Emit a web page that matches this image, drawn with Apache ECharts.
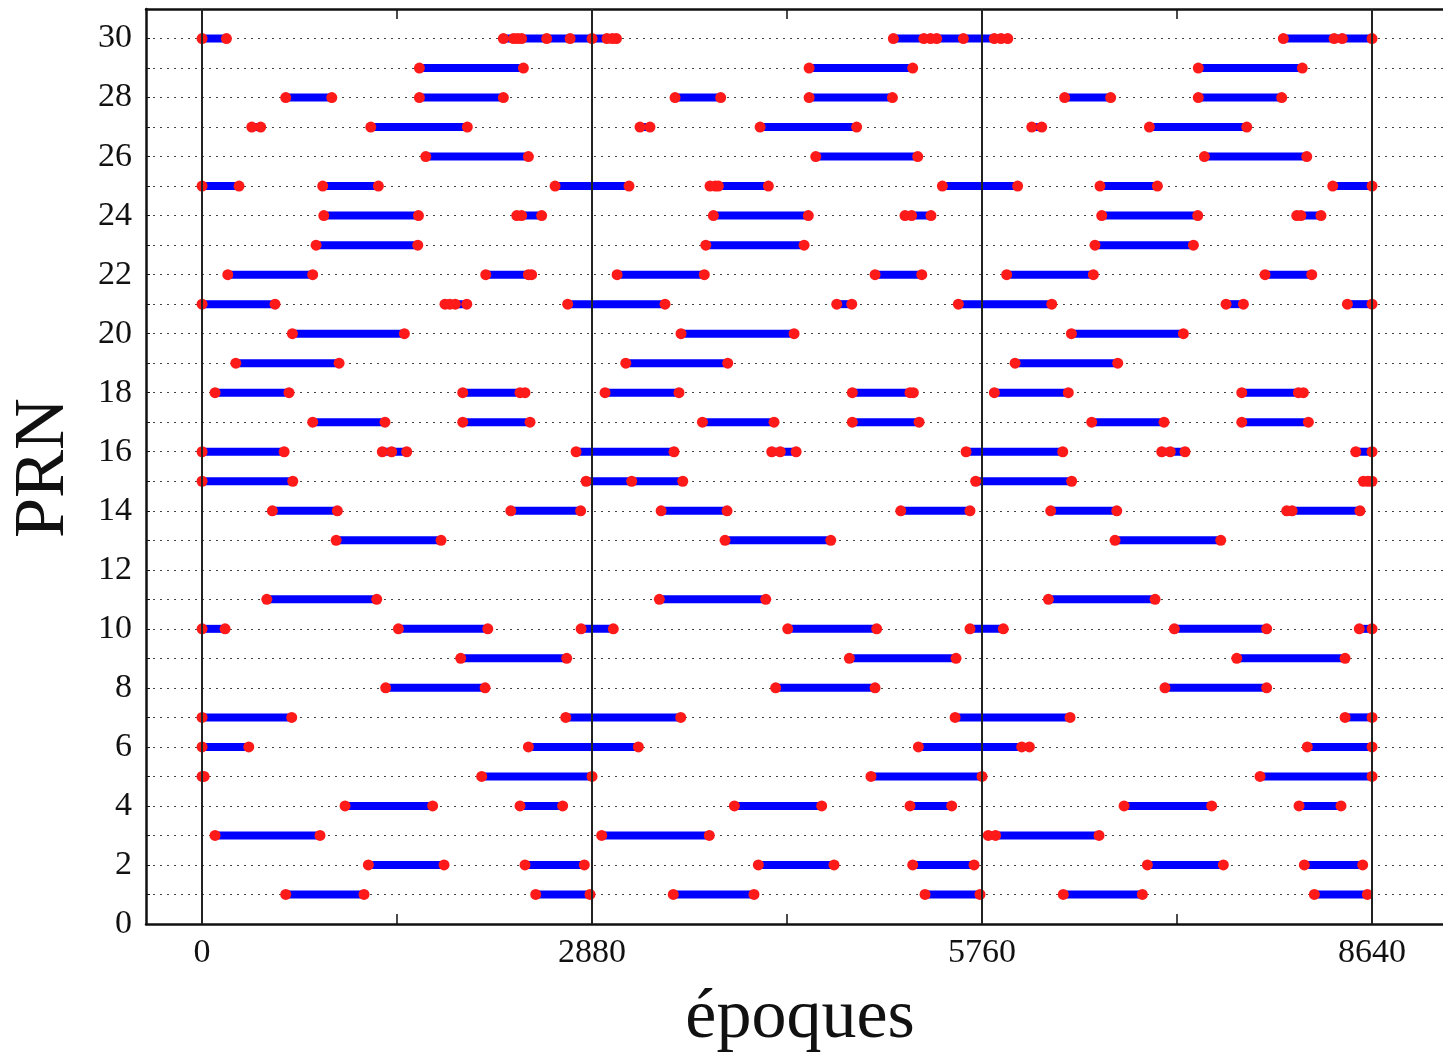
<!DOCTYPE html>
<html>
<head>
<meta charset="utf-8">
<script src="https://cdn.jsdelivr.net/npm/echarts@6/dist/echarts.min.js"></script>
<style>
html,body{margin:0;padding:0;background:#fff;}
#chart{width:1443px;height:1060px;}
</style>
</head>
<body>
<div id="chart"></div>
<script>
// Visibility arcs per satellite (PRN): each arc lists the epochs of its marked points
const prn01 = [[618,1196],[2464,2865],[3480,4076],[5339,5745],[6360,6944],[8214,8606]];
const prn02 = [[1228,1787],[2385,2823],[4108,4667],[5248,5701],[6981,7542],[8140,8571]];
const prn03 = [[96,871],[2951,3746],[5806,5860,6624]];
const prn04 = [[1056,1703],[2348,2663],[3931,4576],[5228,5536],[6809,7456],[8101,8411]];
const prn05 = [[0,15],[2065,2880],[4940,5760],[7813,8640]];
const prn06 = [[0,345],[2410,3222],[5290,6053,6110],[8162,8640]];
const prn07 = [[0,662],[2686,3535],[5561,6410],[8441,8640]];
const prn08 = [[1356,2090],[4236,4970],[7111,7862]];
const prn09 = [[1910,2693],[4780,5568],[7641,8441]];
const prn10 = [[0,170],[1450,2110],[2799,3037],[4325,4982],[5671,5917],[7180,7862],[8546,8640]];
const prn11 = [[478,1290],[3377,4163],[6250,7038]];
const prn12 = [];
const prn13 = [[990,1765],[3862,4643],[6742,7523]];
const prn14 = [[519,999],[2280,2796],[3390,3877],[5160,5671],[6267,6755],[8010,8050,8551]];
const prn15 = [[0,670],[2836,3173,3550],[5713,6422],[8576,8610,8640]];
const prn16 = [[0,606],[1331,1400,1511],[2762,3485],[4207,4270,4387],[5642,6356],[7087,7150,7259],[8520,8640]];
const prn17 = [[817,1351],[1925,2422],[3695,4224],[4802,5295],[6570,7104],[7678,8170]];
const prn18 = [[96,642],[1925,2348,2385],[2976,3522],[4802,5228,5253],[5851,6397],[7678,8096,8133]];
const prn19 = [[249,1012],[3129,3882],[6004,6762]];
const prn20 = [[667,1494],[3537,4372],[6420,7247]];
const prn21 = [[0,539],[1794,1830,1870,1955],[2700,3419],[4687,4798],[5585,6275],[7562,7690],[8458,8640]];
const prn22 = [[190,817],[2095,2410,2434],[3065,3709],[4970,5315],[5942,6582],[7850,8195]];
const prn23 = [[842,1593],[3720,4446],[6594,7321]];
const prn24 = [[899,1598],[2324,2360,2508],[3776,4477],[5191,5240,5383],[6644,7353],[8084,8115,8263]];
const prn25 = [[0,273],[891,1302],[2607,3153],[3751,3790,3813,4182],[5467,6023],[6631,7055],[8350,8640]];
const prn26 = [[1652,2410],[4532,5285],[7402,8158]];
const prn27 = [[367,433],[1246,1959],[3234,3308],[4121,4834],[6127,6201],[6996,7715]];
const prn28 = [[618,958],[1605,2225],[3493,3830],[4483,5098],[6370,6710],[7357,7973]];
const prn29 = [[1605,2373],[4483,5248],[7357,8125]];
const prn30 = [[0,180],[2225,2300,2330,2360,2545,2718,2880,2990,3030,3060],[5105,5330,5380,5425,5622,5850,5900,5950],[7985,8360,8420,8640]];

const satellites = [prn01,prn02,prn03,prn04,prn05,prn06,prn07,prn08,prn09,prn10,
                    prn11,prn12,prn13,prn14,prn15,prn16,prn17,prn18,prn19,prn20,
                    prn21,prn22,prn23,prn24,prn25,prn26,prn27,prn28,prn29,prn30];

const xTickLabels = [0, 2880, 5760, 8640];
const xMinorTicks = [1440, 4320, 7200];
const dayLines = [0, 2880, 5760, 8640];
const yTickLabels = [0,2,4,6,8,10,12,14,16,18,20,22,24,26,28,30];

const FONT = '"Liberation Serif", "DejaVu Serif", serif';

const series = [];
// vertical day lines (below arcs)
series.push({
  type: 'line', data: [], z: 1, silent: true,
  markLine: {
    silent: true, symbol: ['none','none'], label: {show: false},
    lineStyle: {color: '#222', width: 2, type: 'solid'},
    data: dayLines.map(v => ({xAxis: v}))
  }
});
satellites.forEach((arcs, i) => {
  const prn = i + 1;
  arcs.forEach(arc => {
    series.push({
      type: 'line', z: 3, silent: true, animation: false,
      showSymbol: true, showAllSymbol: true,
      symbol: 'circle', symbolSize: 11,
      itemStyle: {color: '#ff1a1a', borderWidth: 0},
      lineStyle: {color: '#0000ff', width: 8},
      data: arc.map(x => [x, prn])
    });
  });
});

const chart = echarts.init(document.getElementById('chart'), null, {renderer: 'canvas'});
chart.setOption({
  animation: false,
  backgroundColor: '#fff',
  grid: {left: 146, top: 9, right: -10, bottom: 136, containLabel: false, outerBoundsMode: 'none'},
  xAxis: [{
    type: 'value', min: -414, max: 9238, position: 'bottom',
    axisLine: {show: true, onZero: false, lineStyle: {color: '#111', width: 2.5}},
    axisTick: {show: true, inside: true, length: 10, customValues: xMinorTicks, lineStyle: {color: '#111', width: 1.5}},
    axisLabel: {show: true, customValues: xTickLabels, margin: 12, fontFamily: FONT, fontSize: 34, color: '#111',
      formatter: v => String(v)},
    splitLine: {show: false}
  }, {
    type: 'value', min: -414, max: 9238, position: 'top',
    axisLine: {show: true, onZero: false, lineStyle: {color: '#111', width: 2.5}},
    axisTick: {show: true, inside: true, length: 10, customValues: xMinorTicks, lineStyle: {color: '#111', width: 1.5}},
    axisLabel: {show: false},
    splitLine: {show: false}
  }],
  yAxis: {
    type: 'value', min: 0, max: 31, interval: 1,
    axisLine: {show: true, onZero: false, lineStyle: {color: '#111', width: 2.5}},
    axisTick: {show: true, inside: true, length: 4, lineStyle: {color: '#111'}},
    axisLabel: {
      margin: 14, fontFamily: FONT, fontSize: 34, color: '#111',
      formatter: v => (yTickLabels.indexOf(v) >= 0 ? String(v) : '')
    },
    splitLine: {show: true, lineStyle: {color: '#444', width: 1.2, type: [2, 5]}}
  },
  graphic: [
    {type: 'text', x: 800, y: 1019, silent: true,
     style: {text: 'époques', fontFamily: FONT, fontSize: 70, fill: '#111', textAlign: 'center', textVerticalAlign: 'middle'}},
    {type: 'text', x: 44, y: 468, rotation: Math.PI / 2, silent: true,
     style: {text: 'PRN', fontFamily: FONT, fontSize: 72, fill: '#111', textAlign: 'center', textVerticalAlign: 'middle'}}
  ],
  series: series
});
</script>
</body>
</html>
